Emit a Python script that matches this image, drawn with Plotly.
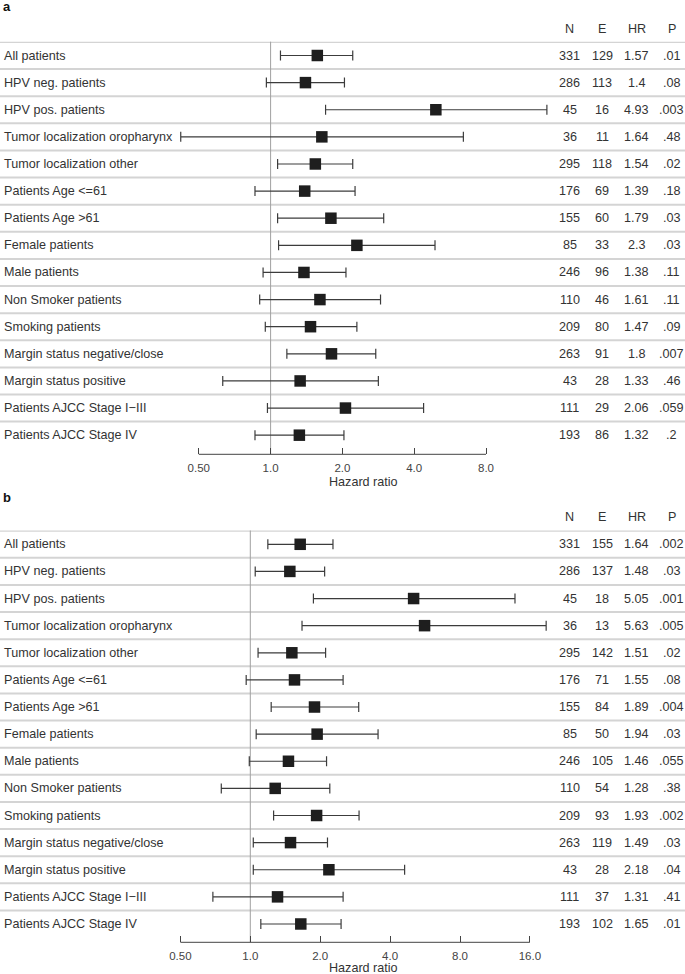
import math
import plotly.graph_objects as go

labels = ["All patients", "HPV neg. patients", "HPV pos. patients",
          "Tumor localization oropharynx", "Tumor localization other",
          "Patients Age <=61", "Patients Age >61", "Female patients",
          "Male patients", "Non Smoker patients", "Smoking patients",
          "Margin status negative/close", "Margin status positive",
          "Patients AJCC Stage I\u2212III", "Patients AJCC Stage IV"]
col_headers = ["N", "E", "HR", "P"]

# Panel a
n_a = [331, 286, 45, 36, 295, 176, 155, 85, 246, 110, 209, 263, 43, 111, 193]
e_a = [129, 113, 16, 11, 118, 69, 60, 33, 96, 46, 80, 91, 28, 29, 86]
hr_a = ["1.57", "1.4", "4.93", "1.64", "1.54", "1.39", "1.79", "2.3", "1.38",
        "1.61", "1.47", "1.8", "1.33", "2.06", "1.32"]
p_a = [".01", ".08", ".003", ".48", ".02", ".18", ".03", ".03", ".11", ".11",
       ".09", ".007", ".46", ".059", ".2"]
lo_a = [1.10, 0.96, 1.70, 0.42, 1.07, 0.86, 1.07, 1.08, 0.93, 0.90, 0.95,
        1.17, 0.63, 0.97, 0.86]
hi_a = [2.21, 2.04, 14.4, 6.43, 2.21, 2.26, 2.98, 4.89, 2.07, 2.89, 2.30,
        2.76, 2.83, 4.38, 2.03]
ticks_a = [0.5, 1, 2, 4, 8]
ticktext_a = ["0.50", "1.0", "2.0", "4.0", "8.0"]

# Panel b
n_b = [331, 286, 45, 36, 295, 176, 155, 85, 246, 110, 209, 263, 43, 111, 193]
e_b = [155, 137, 18, 13, 142, 71, 84, 50, 105, 54, 93, 119, 28, 37, 102]
hr_b = ["1.64", "1.48", "5.05", "5.63", "1.51", "1.55", "1.89", "1.94", "1.46",
        "1.28", "1.93", "1.49", "2.18", "1.31", "1.65"]
p_b = [".002", ".03", ".001", ".005", ".02", ".08", ".004", ".03", ".055",
       ".38", ".002", ".03", ".04", ".41", ".01"]
lo_b = [1.19, 1.05, 1.87, 1.67, 1.08, 0.96, 1.23, 1.06, 0.99, 0.75, 1.26,
        1.03, 1.03, 0.69, 1.11]
hi_b = [2.27, 2.09, 13.8, 18.8, 2.11, 2.51, 2.93, 3.55, 2.13, 2.20, 2.94,
        2.15, 4.62, 2.51, 2.46]
ticks_b = [0.5, 1, 2, 4, 8, 16]
ticktext_b = ["0.50", "1.0", "2.0", "4.0", "8.0", "16.0"]

W, H = 685, 974
FONT = "Liberation Sans, Arial, sans-serif"
TXT = "#333333"
FS = 12.6

fig = go.Figure()

panels = [
    dict(n=n_a, e=e_a, hr=hr_a, p=p_a, lo=lo_a, hi=hi_a, ticks=ticks_a,
         ticktext=ticktext_a, xa="x", ya="y", xname="xaxis", yname="yaxis",
         letter="a", letter_px=6, header_px=29.3, top_px=41.7, row0_px=55.5,
         axis_px=454.3, one_px=270.6, dbl_px=71.8, title_px=482),
    dict(n=n_b, e=e_b, hr=hr_b, p=p_b, lo=lo_b, hi=hi_b, ticks=ticks_b,
         ticktext=ticktext_b, xa="x2", ya="y2", xname="xaxis2", yname="yaxis2",
         letter="b", letter_px=497, header_px=517, top_px=530.5, row0_px=544.3,
         axis_px=942.3, one_px=250.3, dbl_px=69.9, title_px=967.5),
]
ROW = 27.12
col_px = [569.5, 602, 636.5, 671.5]

shapes = []
annotations = []
for pn in panels:
    rows = list(range(len(labels)))
    hrv = [float(v) for v in pn["hr"]]
    fig.add_trace(go.Scatter(
        x=hrv, y=rows, xaxis=pn["xa"], yaxis=pn["ya"], mode="markers",
        marker=dict(symbol="square", size=11.5, color="#1e1e1e", line=dict(width=0)),
        error_x=dict(type="data", symmetric=False,
                     array=[h - v for h, v in zip(pn["hi"], hrv)],
                     arrayminus=[v - l for v, l in zip(hrv, pn["lo"])],
                     width=5, thickness=1.2, color="#3c3c3c"),
        showlegend=False, hoverinfo="skip", cliponaxis=False))

    l2_lo = (0 - pn["one_px"]) / pn["dbl_px"]
    l2_hi = (W - pn["one_px"]) / pn["dbl_px"]
    xr = [l2_lo * math.log10(2), l2_hi * math.log10(2)]
    y_top = (pn["top_px"] - pn["row0_px"]) / ROW
    y_bot = (pn["axis_px"] - pn["row0_px"]) / ROW
    fig.layout[pn["xname"]] = dict(
        type="log", range=xr, domain=[0, 1], anchor=pn["ya"],
        tickvals=pn["ticks"], ticktext=pn["ticktext"], ticks="inside",
        ticklen=6, tickwidth=1, tickcolor="#444444", showline=False,
        showgrid=False, zeroline=False, ticklabelstandoff=5,
        tickfont=dict(family=FONT, size=11.5, color="#444444"))
    fig.layout[pn["yname"]] = dict(
        range=[y_bot, y_top], domain=[1 - pn["axis_px"] / H, 1 - pn["top_px"] / H],
        anchor=pn["xa"], visible=False, showgrid=False, zeroline=False)

    for i in rows:
        shapes.append(dict(type="line", xref="paper", x0=0, x1=1, yref=pn["ya"],
                           y0=i - 0.5, y1=i - 0.5,
                           line=dict(color="#d4d4d4", width=2), layer="below"))
    shapes.append(dict(type="line", xref=pn["xa"], x0=1, x1=1,
                       yref=pn["ya"] + " domain", y0=0, y1=1,
                       line=dict(color="#a0a0a0", width=1), layer="below"))
    shapes.append(dict(type="line", xref=pn["xa"], x0=min(pn["ticks"]), x1=max(pn["ticks"]),
                       yref=pn["ya"] + " domain", y0=0, y1=0,
                       line=dict(color="#444444", width=1)))

    for i in rows:
        annotations.append(dict(xref="paper", x=2 / W, xanchor="left", yref=pn["ya"],
                                y=i, yanchor="middle", text=labels[i], showarrow=False,
                                font=dict(family=FONT, size=FS, color=TXT)))
        vals = [str(pn["n"][i]), str(pn["e"][i]), pn["hr"][i], pn["p"][i]]
        for cx, v in zip(col_px, vals):
            annotations.append(dict(xref="paper", x=cx / W, xanchor="center",
                                    yref=pn["ya"], y=i, yanchor="middle", text=v,
                                    showarrow=False,
                                    font=dict(family=FONT, size=FS, color=TXT)))
    for cx, h in zip(col_px, col_headers):
        annotations.append(dict(xref="paper", x=cx / W, xanchor="center",
                                yref="paper", y=1 - pn["header_px"] / H,
                                yanchor="middle", text=h, showarrow=False,
                                font=dict(family=FONT, size=FS, color=TXT)))
    annotations.append(dict(xref="paper", x=1 / W, xanchor="left", yref="paper",
                            y=1 - pn["letter_px"] / H, yanchor="middle",
                            text="<b>" + pn["letter"] + "</b>", showarrow=False,
                            font=dict(family=FONT, size=13, color="#111111")))
    annotations.append(dict(xref="paper", x=363 / W, xanchor="center", yref="paper",
                            y=1 - pn["title_px"] / H, yanchor="middle",
                            text="Hazard ratio", showarrow=False,
                            font=dict(family=FONT, size=12.6, color=TXT)))

fig.update_layout(width=W, height=H, margin=dict(l=0, r=0, t=0, b=0, pad=0),
                  paper_bgcolor="white", plot_bgcolor="white",
                  shapes=shapes, annotations=annotations,
                  font=dict(family=FONT, color=TXT))

fig.write_html("out.html", config={"displayModeBar": False},
               post_script="document.body.style.margin='0';document.body.style.overflow='hidden';")
